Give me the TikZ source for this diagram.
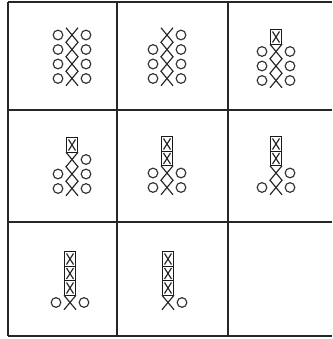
\documentclass[tikz,border=0pt]{standalone}
\usepackage{tikz}

\tikzset{
  gridline/.style={draw=black!85,line width=1.5pt},
  yarn/.style={draw=black!85,line width=1pt},
  loopring/.style={draw=black!80,line width=1pt},
  barbox/.style={draw=black!90,line width=1.2pt},
}

\begin{document}
\begin{tikzpicture}[x=0.03cm,y=-0.03cm]
\useasboundingbox (0,0) rectangle (332,339);

% frame and cell lines
\draw[gridline] (8,2) -- (332,2);
\draw[gridline] (8,110) -- (332,110);
\draw[gridline] (8,222) -- (332,222);
\draw[gridline] (8,336) -- (332,336);
\draw[gridline] (8,2) -- (8,336);
\draw[gridline] (117,2) -- (117,336);
\draw[gridline] (228,2) -- (228,336);

% cell 1
\begin{scope}[shift={(72,35)}]
\draw[yarn] (-6,-7.25) -- (6,7.25) -- (-6,21.75) -- (6,36.25) -- (-6,50.75);
\draw[yarn] (6,-7.25) -- (-6,7.25) -- (6,21.75) -- (-6,36.25) -- (6,50.75);
\draw[loopring] (-14,0) circle[radius=1.45mm];
\draw[loopring] (14,0) circle[radius=1.45mm];
\draw[loopring] (-14,14.5) circle[radius=1.45mm];
\draw[loopring] (14,14.5) circle[radius=1.45mm];
\draw[loopring] (-14,29) circle[radius=1.45mm];
\draw[loopring] (14,29) circle[radius=1.45mm];
\draw[loopring] (-14,43.5) circle[radius=1.45mm];
\draw[loopring] (14,43.5) circle[radius=1.45mm];
\end{scope}

% cell 2
\begin{scope}[shift={(167,35)}]
\draw[yarn] (-6,-7.25) -- (6,7.25) -- (-6,21.75) -- (6,36.25) -- (-6,50.75);
\draw[yarn] (6,-7.25) -- (-6,7.25) -- (6,21.75) -- (-6,36.25) -- (6,50.75);
\draw[loopring] (14,0) circle[radius=1.45mm];
\draw[loopring] (-14,14.5) circle[radius=1.45mm];
\draw[loopring] (14,14.5) circle[radius=1.45mm];
\draw[loopring] (-14,29) circle[radius=1.45mm];
\draw[loopring] (14,29) circle[radius=1.45mm];
\draw[loopring] (-14,43.5) circle[radius=1.45mm];
\draw[loopring] (14,43.5) circle[radius=1.45mm];
\end{scope}

% cell 3
\begin{scope}[shift={(276,37)}]
\draw[barbox] (-5.5,-7.25) rectangle (5.5,7.25);
\draw[yarn] (-3.5,-5.5) -- (3.5,5.5) (3.5,-5.5) -- (-3.5,5.5);
\draw[yarn] (-6,7.25) -- (6,21.75) -- (-6,36.25) -- (6,50.75);
\draw[yarn] (6,7.25) -- (-6,21.75) -- (6,36.25) -- (-6,50.75);
\draw[loopring] (-14,14.5) circle[radius=1.45mm];
\draw[loopring] (14,14.5) circle[radius=1.45mm];
\draw[loopring] (-14,29) circle[radius=1.45mm];
\draw[loopring] (14,29) circle[radius=1.45mm];
\draw[loopring] (-14,43.5) circle[radius=1.45mm];
\draw[loopring] (14,43.5) circle[radius=1.45mm];
\end{scope}

% cell 4
\begin{scope}[shift={(72,145)}]
\draw[barbox] (-5.5,-7.25) rectangle (5.5,7.25);
\draw[yarn] (-3.5,-5.5) -- (3.5,5.5) (3.5,-5.5) -- (-3.5,5.5);
\draw[yarn] (-6,7.25) -- (6,21.75) -- (-6,36.25) -- (6,50.75);
\draw[yarn] (6,7.25) -- (-6,21.75) -- (6,36.25) -- (-6,50.75);
\draw[loopring] (14,14.5) circle[radius=1.45mm];
\draw[loopring] (-14,29) circle[radius=1.45mm];
\draw[loopring] (14,29) circle[radius=1.45mm];
\draw[loopring] (-14,43.5) circle[radius=1.45mm];
\draw[loopring] (14,43.5) circle[radius=1.45mm];
\end{scope}

% cell 5
\begin{scope}[shift={(167,144)}]
\draw[barbox] (-5.5,-7.25) rectangle (5.5,21.75);
\draw[barbox] (-5.5,7.25) -- (5.5,7.25);
\draw[yarn] (-3.5,-5.5) -- (3.5,5.5) (3.5,-5.5) -- (-3.5,5.5);
\draw[yarn] (-3.5,9) -- (3.5,20) (3.5,9) -- (-3.5,20);
\draw[yarn] (-6,21.75) -- (6,36.25) -- (-6,50.75);
\draw[yarn] (6,21.75) -- (-6,36.25) -- (6,50.75);
\draw[loopring] (-14,29) circle[radius=1.45mm];
\draw[loopring] (14,29) circle[radius=1.45mm];
\draw[loopring] (-14,43.5) circle[radius=1.45mm];
\draw[loopring] (14,43.5) circle[radius=1.45mm];
\end{scope}

% cell 6
\begin{scope}[shift={(276,144)}]
\draw[barbox] (-5.5,-7.25) rectangle (5.5,21.75);
\draw[barbox] (-5.5,7.25) -- (5.5,7.25);
\draw[yarn] (-3.5,-5.5) -- (3.5,5.5) (3.5,-5.5) -- (-3.5,5.5);
\draw[yarn] (-3.5,9) -- (3.5,20) (3.5,9) -- (-3.5,20);
\draw[yarn] (-6,21.75) -- (6,36.25) -- (-6,50.75);
\draw[yarn] (6,21.75) -- (-6,36.25) -- (6,50.75);
\draw[loopring] (14,29) circle[radius=1.45mm];
\draw[loopring] (-14,43.5) circle[radius=1.45mm];
\draw[loopring] (14,43.5) circle[radius=1.45mm];
\end{scope}

% cell 7
\begin{scope}[shift={(70,259)}]
\draw[barbox] (-5.5,-7.25) rectangle (5.5,36.25);
\draw[barbox] (-5.5,7.25) -- (5.5,7.25);
\draw[barbox] (-5.5,21.75) -- (5.5,21.75);
\draw[yarn] (-3.5,-5.5) -- (3.5,5.5) (3.5,-5.5) -- (-3.5,5.5);
\draw[yarn] (-3.5,9) -- (3.5,20) (3.5,9) -- (-3.5,20);
\draw[yarn] (-3.5,23.5) -- (3.5,34.5) (3.5,23.5) -- (-3.5,34.5);
\draw[yarn] (-6,36.25) -- (6,50.75);
\draw[yarn] (6,36.25) -- (-6,50.75);
\draw[loopring] (-14,43.5) circle[radius=1.45mm];
\draw[loopring] (14,43.5) circle[radius=1.45mm];
\end{scope}

% cell 8
\begin{scope}[shift={(168,259)}]
\draw[barbox] (-5.5,-7.25) rectangle (5.5,36.25);
\draw[barbox] (-5.5,7.25) -- (5.5,7.25);
\draw[barbox] (-5.5,21.75) -- (5.5,21.75);
\draw[yarn] (-3.5,-5.5) -- (3.5,5.5) (3.5,-5.5) -- (-3.5,5.5);
\draw[yarn] (-3.5,9) -- (3.5,20) (3.5,9) -- (-3.5,20);
\draw[yarn] (-3.5,23.5) -- (3.5,34.5) (3.5,23.5) -- (-3.5,34.5);
\draw[yarn] (-6,36.25) -- (6,50.75);
\draw[yarn] (6,36.25) -- (-6,50.75);
\draw[loopring] (14,43.5) circle[radius=1.45mm];
\end{scope}

\end{tikzpicture}
\end{document}
